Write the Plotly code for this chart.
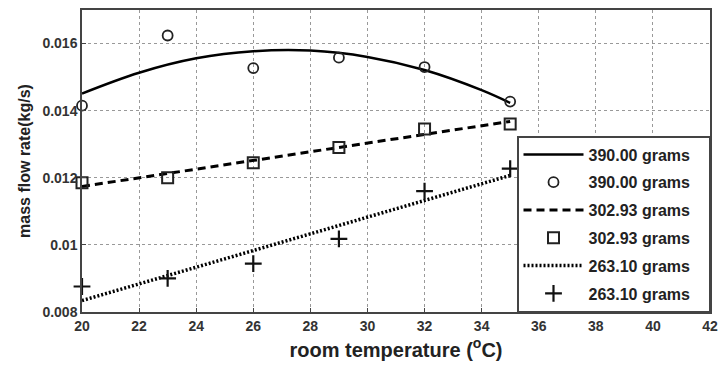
import plotly.graph_objects as go

# measured points
temps = [20, 23, 26, 29, 32, 35]
flow_390 = [0.01415, 0.01624, 0.01527, 0.01558, 0.01530, 0.01427]
flow_303 = [0.01185, 0.01200, 0.01245, 0.01290, 0.01345, 0.01360]
flow_263 = [0.00876, 0.00900, 0.00944, 0.01018, 0.01160, 0.01227]

# fitted curves
fit_x_390 = [20, 22, 24, 26, 28, 30, 32, 34, 35]
fit_y_390 = [0.01451, 0.01513, 0.01556, 0.01577, 0.01579, 0.01560, 0.01521, 0.01461, 0.01423]
fit_x_303 = [20, 35]
fit_y_303 = [0.01174, 0.01368]
fit_x_263 = [20, 35]
fit_y_263 = [0.00834, 0.01207]

labels = ["390.00 grams", "302.93 grams", "263.10 grams"]
x_ticks = [20, 22, 24, 26, 28, 30, 32, 34, 36, 38, 40, 42]
y_ticks = [0.008, 0.01, 0.012, 0.014, 0.016]
y_tick_text = ["0.008", "0.01", "0.012", "0.014", "0.016"]

pad = "\u00a0" * 3

fig = go.Figure()
fig.add_trace(go.Scatter(x=fit_x_390, y=fit_y_390, mode="lines", name=labels[0] + pad,
                         line=dict(color="black", width=2.5, shape="spline"), legendgroup="a"))
fig.add_trace(go.Scatter(x=temps, y=flow_390, mode="markers", name=labels[0] + pad, cliponaxis=False,
                         marker=dict(symbol="circle-open", size=10, color="#222", line=dict(width=1.8)),
                         legendgroup="b"))
fig.add_trace(go.Scatter(x=fit_x_303, y=fit_y_303, mode="lines", name=labels[1] + pad,
                         line=dict(color="black", width=3, dash="8px,5px"), legendgroup="c"))
fig.add_trace(go.Scatter(x=temps, y=flow_303, mode="markers", name=labels[1] + pad, cliponaxis=False,
                         marker=dict(symbol="square-open", size=11, color="#222", line=dict(width=2)),
                         legendgroup="d"))
fig.add_trace(go.Scatter(x=fit_x_263, y=fit_y_263, mode="lines", name=labels[2] + pad,
                         line=dict(color="black", width=3.5, dash="2px,2px"), legendgroup="e"))
fig.add_trace(go.Scatter(x=temps, y=flow_263, mode="markers", name=labels[2] + pad, cliponaxis=False,
                         marker=dict(symbol="cross-thin-open", size=12, color="#111", line=dict(width=2.2, color="#111")),
                         legendgroup="f"))

axis_font = dict(family="Liberation Sans", size=14, color="#333")
fig.update_layout(
    width=719, height=370,
    margin=dict(l=82, r=9, t=10, b=58),
    paper_bgcolor="white", plot_bgcolor="white",
    font=dict(family="Liberation Sans", color="#222"),
    showlegend=True,
    legend=dict(x=1, y=0, xanchor="right", yanchor="bottom",
                bordercolor="#444", borderwidth=1.5, bgcolor="white",
                font=dict(family="Liberation Sans", size=16, color="#222", weight="bold"),
                tracegroupgap=4, itemwidth=60, traceorder="grouped"),
    xaxis=dict(range=[20, 42], tickvals=x_ticks, ticks="inside", ticklen=4,
               tickfont=dict(**axis_font, weight="bold"), automargin=False,
               showgrid=True, gridcolor="#999", griddash="dot", gridwidth=1,
               showline=True, linecolor="#444", linewidth=1.5, mirror=True,
               zeroline=False,
               title=dict(text="room temperature (<sup>o</sup>C)", standoff=10,
                          font=dict(family="Liberation Sans", size=20, color="#222", weight="bold"))),
    yaxis=dict(range=[0.008, 0.017], tickvals=y_ticks, ticktext=y_tick_text,
               ticks="inside", ticklen=4, automargin=False,
               tickfont=dict(**axis_font, weight="bold"),
               showgrid=True, gridcolor="#999", griddash="dot", gridwidth=1,
               showline=True, linecolor="#444", linewidth=1.5, mirror=True,
               zeroline=False,
               title=dict(text="mass flow rate(kg/s)", standoff=8,
                          font=dict(family="Liberation Sans", size=16, color="#222", weight="bold"))),
)

fig.write_html("out.html", config={"displayModeBar": False},
               post_script="document.body.style.margin='0';document.body.style.padding='0';")
